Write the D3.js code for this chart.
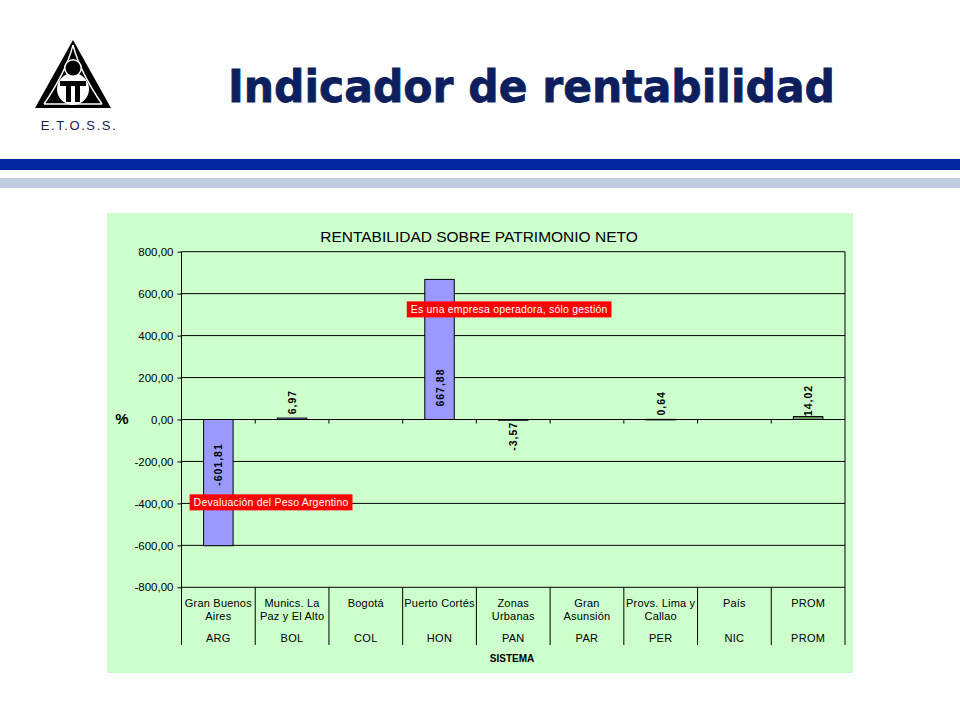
<!DOCTYPE html>
<html><head><meta charset="utf-8">
<script src="https://cdn.jsdelivr.net/npm/d3@7"></script>
<style>body{margin:0;background:#fff}svg{display:block}</style>
</head><body>
<script>
const categories = ["Gran Buenos Aires","Munics. La Paz y El Alto","Bogotá","Puerto Cortés","Zonas Urbanas","Gran Asunsión","Provs. Lima y Callao","País","PROM"];
const catLines = [["Gran Buenos","Aires"],["Munics. La","Paz y El Alto"],["Bogotá"],["Puerto Cortés"],["Zonas","Urbanas"],["Gran","Asunsión"],["Provs. Lima y","Callao"],["País"],["PROM"]];
const countries = ["ARG","BOL","COL","HON","PAN","PAR","PER","NIC","PROM"];
const values = [-601.81, 6.97, null, 667.88, -3.57, null, 0.64, null, 14.02];
const yTicks = [-800,-600,-400,-200,0,200,400,600,800];
const notes = [
  {cat:"Puerto Cortés", value:525, text:"Es una empresa operadora, sólo gestión"},
  {cat:"Gran Buenos Aires", value:-395, text:"Devaluación del Peso Argentino"}
];

const W=960,H=720;
const svg=d3.select("body").append("svg").attr("width",W).attr("height",H);

// header bands
svg.append("rect").attr("x",0).attr("y",159).attr("width",960).attr("height",11).attr("fill","#0026A0");
svg.append("rect").attr("x",0).attr("y",178).attr("width",960).attr("height",10).attr("fill","#C0CCE0");

// logo
const lg=svg.append("g");
lg.append("path").attr("d","M73,40 L111,108 L35,108 Z").attr("fill","#000");
lg.append("path").attr("d","M73,45 Q66,72 44,104 M73,45 Q80,72 102,104 M44,104 L102,104").attr("stroke","#fff").attr("stroke-width",1.4).attr("fill","none");
lg.append("circle").attr("cx",73).attr("cy",89).attr("r",16).attr("fill","#fff");
lg.append("circle").attr("cx",73).attr("cy",68).attr("r",9).attr("fill","#fff");
lg.append("circle").attr("cx",73).attr("cy",68).attr("r",7.5).attr("fill","#000");
lg.append("path").attr("d","M60,81 L86,81 L86,86 L80,86 L80,102 L75,102 L75,86 L71,86 L71,102 L66,102 L66,86 L60,86 Z").attr("fill","#000");
svg.append("text").attr("x",79).attr("y",130).attr("text-anchor","middle").attr("font-family","Arial, 'Liberation Sans', sans-serif").attr("font-size",13).attr("fill","#1A1A4A").attr("letter-spacing",1.6).text("E.T.O.S.S.");

// main title
svg.append("text").attr("x",228).attr("y",102).attr("font-family","'DejaVu Sans', Verdana, sans-serif").attr("font-weight","bold").attr("font-size",44).attr("fill","#0D1F5C").attr("stroke","#0D1F5C").attr("stroke-width",0.8).attr("textLength",607).attr("lengthAdjust","spacingAndGlyphs").text("Indicador de rentabilidad");

// chart panel
svg.append("rect").attr("x",107).attr("y",213).attr("width",746).attr("height",460).attr("fill","#CCFFCC");

const x0=181.5,x1=845,yTop=251.7,yBot=587.3,catBottom=645;
const x=d3.scaleBand().domain(categories).range([x0,x1]).paddingInner(0).paddingOuter(0);
const y=d3.scaleLinear().domain([-800,800]).range([yBot,yTop]);
const font="Arial, 'Liberation Sans', sans-serif";
const fmt=v=>d3.format(".2f")(v).replace(".",",").replace("\u2212","-");

svg.append("text").attr("x",479).attr("y",242).attr("text-anchor","middle").attr("font-family",font).attr("font-size",15.5).attr("fill","#000").text("RENTABILIDAD SOBRE PATRIMONIO NETO");

// gridlines
svg.append("g").selectAll("line").data(yTicks).join("line")
  .attr("x1",x0).attr("x2",x1).attr("y1",d=>y(d)).attr("y2",d=>y(d)).attr("stroke","#000").attr("stroke-width",1);

// y axis
const yAxis=d3.axisLeft(y).tickValues(yTicks).tickSize(4).tickFormat(fmt);
const ya=svg.append("g").attr("transform",`translate(${x0},0)`).call(yAxis);
ya.select(".domain").remove();
ya.selectAll("line").attr("stroke","#000");
ya.selectAll("text").attr("font-family",font).attr("font-size",11.5).attr("fill","#000").attr("dx",-1);

svg.append("text").attr("x",122).attr("y",424).attr("text-anchor","middle").attr("font-family",font).attr("font-weight","bold").attr("font-size",15).text("%");

// vertical frame lines + separators
const bounds=categories.map(c=>x(c)).concat([x1]);
svg.append("g").selectAll("line").data(bounds).join("line")
  .attr("x1",d=>d).attr("x2",d=>d).attr("y1",yBot).attr("y2",catBottom).attr("stroke","#000");
svg.append("line").attr("x1",x0).attr("x2",x0).attr("y1",yTop).attr("y2",yBot).attr("stroke","#000");
svg.append("line").attr("x1",x1).attr("x2",x1).attr("y1",yTop).attr("y2",yBot).attr("stroke","#000");
svg.append("g").selectAll("line").data(bounds.slice(1,-1)).join("line")
  .attr("x1",d=>d).attr("x2",d=>d).attr("y1",y(0)).attr("y2",y(0)+4).attr("stroke","#000");

// bars
const bw=x.bandwidth()*0.4;
const data=categories.map((c,i)=>({c,v:values[i],code:countries[i]}));
svg.append("g").selectAll("rect").data(data.filter(d=>d.v!==null)).join("rect")
  .attr("x",d=>x(d.c)+x.bandwidth()/2-bw/2).attr("width",bw)
  .attr("y",d=>Math.min(y(d.v),y(0))).attr("height",d=>Math.max(Math.abs(y(d.v)-y(0)),0.5))
  .attr("fill",d=>d.code==="PROM"?"#669966":"#9999FF").attr("stroke","#000").attr("stroke-width",1);

// value labels (rotated)
svg.append("g").selectAll("text").data(data.filter(d=>d.v!==null)).join("text")
  .attr("transform",d=>{
    const cx=x(d.c)+x.bandwidth()/2+4;
    let cy;
    if(Math.abs(d.v)>100) cy = d.v>0 ? y(0)-32 : y(0)+45;
    else cy = d.v>=0 ? y(d.v)-16 : y(d.v)+16;
    return `translate(${cx},${cy}) rotate(-90)`;
  })
  .attr("text-anchor","middle").attr("font-family",font).attr("font-weight","bold").attr("font-size",10.5).attr("letter-spacing",1).attr("fill","#000")
  .text(d=>fmt(d.v));

// category labels
const cl=svg.append("g").selectAll("text").data(data).join("text")
  .attr("x",d=>x(d.c)+x.bandwidth()/2).attr("y",607).attr("text-anchor","middle")
  .attr("font-family",font).attr("font-size",11).attr("letter-spacing",0.2).attr("fill","#000");
cl.each(function(d,i){
  const t=d3.select(this);
  catLines[i].forEach((ln,j)=>t.append("tspan").attr("x",x(d.c)+x.bandwidth()/2).attr("dy",j?13:0).text(ln));
});
svg.append("g").selectAll("text").data(data).join("text")
  .attr("x",d=>x(d.c)+x.bandwidth()/2).attr("y",642).attr("text-anchor","middle")
  .attr("font-family",font).attr("font-size",11).attr("letter-spacing",0.3).attr("fill","#000").text(d=>d.code);
svg.append("text").attr("x",512).attr("y",662).attr("text-anchor","middle").attr("font-family",font).attr("font-weight","bold").attr("font-size",10).attr("fill","#000").text("SISTEMA");

// annotations
notes.forEach(n=>{
  const g=svg.append("g");
  const t=g.append("text").attr("font-family",font).attr("font-size",10.5).attr("letter-spacing",0.2).attr("fill","#fff").text(n.text);
  const w=t.node().getComputedTextLength()+8;
  const left=x(n.cat)+x.bandwidth()/2-bw/2-14 + (n.cat==="Puerto Cortés"?-4:0);
  g.insert("rect","text").attr("x",left).attr("y",y(n.value)-8).attr("width",w).attr("height",16).attr("fill","#FF0000");
  t.attr("x",left+4).attr("y",y(n.value)+4);
});
</script>
</body></html>
